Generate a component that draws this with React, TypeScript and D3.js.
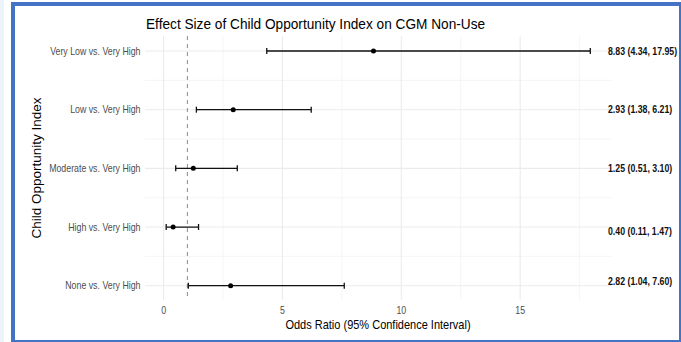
import React from "react";
import * as d3 from "d3";

const categories = [
  "Very Low vs. Very High",
  "Low vs. Very High",
  "Moderate vs. Very High",
  "High vs. Very High",
  "None vs. Very High",
];
const oddsRatio = [8.83, 2.93, 1.25, 0.4, 2.82];
const ciLower = [4.34, 1.38, 0.51, 0.11, 1.04];
const ciUpper = [17.95, 6.21, 3.1, 1.47, 7.6];
const xTicks = [0, 5, 10, 15];
const xMinorTicks = [2.5, 7.5, 12.5, 17.5];
const refLine = 1;

const W = 681;
const H = 342;
const SX = 0.88;
const FONT = "'Liberation Sans', Arial, Helvetica, sans-serif";
const labelDy = [0, 0, 0, 4, -5];

export default function App() {
  const lo = d3.min(ciLower)!;
  const hi = d3.max(ciUpper)!;
  const pad = (hi - lo) * 0.05;
  const x = d3.scaleLinear().domain([lo - pad, hi + pad]).range([145, 611.5]);
  const y = d3.scalePoint<string>().domain(categories).range([51, 285.7]);
  const step = y.step();
  const top = 36;
  const bottom = 300;
  const minorY = categories.slice(1).map((c) => (y(c)! - step / 2));
  const fmt = d3.format(".2f");

  const sq = (tx: number, ty: number, s = SX) => `translate(${tx},${ty}) scale(${s},1)`;

  return (
    <svg
      width={W}
      height={H}
      style={{ position: "absolute", left: 0, top: 0, background: "#fff" }}
      fontFamily={FONT}
    >
      <rect x={0} y={0} width={4} height={H} fill="#edf3fa" />
      {/* panel grid */}
      {xMinorTicks.map((t) => (
        <line key={"mx" + t} x1={x(t)} x2={x(t)} y1={top} y2={bottom} stroke="#f0f0f0" strokeWidth={0.7} />
      ))}
      {minorY.map((v, i) => (
        <line key={"my" + i} x1={145} x2={611.5} y1={v} y2={v} stroke="#f0f0f0" strokeWidth={0.7} />
      ))}
      {xTicks.map((t) => (
        <line key={"gx" + t} x1={x(t)} x2={x(t)} y1={top} y2={bottom} stroke="#ebebeb" strokeWidth={1.1} />
      ))}
      {categories.map((c) => (
        <line key={"gy" + c} x1={145} x2={611.5} y1={y(c)} y2={y(c)} stroke="#ebebeb" strokeWidth={1.1} />
      ))}
      {/* reference line */}
      <line
        x1={x(refLine)}
        x2={x(refLine)}
        y1={top}
        y2={bottom}
        stroke="#8a8a8a"
        strokeWidth={1}
        strokeDasharray="4,4"
      />
      {/* error bars */}
      {categories.map((c, i) => {
        const yy = y(c)!;
        const x1 = x(ciLower[i]);
        const x2 = x(ciUpper[i]);
        return (
          <g key={"eb" + c} stroke="#111" strokeWidth={1.3}>
            <line x1={x1} x2={x2} y1={yy} y2={yy} />
            <line x1={x1} x2={x1} y1={yy - 3} y2={yy + 3} />
            <line x1={x2} x2={x2} y1={yy - 3} y2={yy + 3} />
          </g>
        );
      })}
      {categories.map((c, i) => (
        <circle key={"pt" + c} cx={x(oddsRatio[i])} cy={y(c)} r={2.5} fill="#000" />
      ))}
      {/* annotation labels */}
      {categories.map((c, i) => (
        <text
          key={"lab" + c}
          transform={sq(608, y(c)! + labelDy[i] + 3.8, 0.86)}
          fontSize={10.2}
          fontWeight="bold"
          fill="#111"
        >
          {`${fmt(oddsRatio[i])} (${fmt(ciLower[i])}, ${fmt(ciUpper[i])})`}
        </text>
      ))}
      {/* y tick labels */}
      {categories.map((c) => (
        <text key={"yt" + c} transform={sq(140.5, y(c)! + 3.6)} textAnchor="end" fontSize={10} fill="#4d4d4d">
          {c}
        </text>
      ))}
      {/* x tick labels */}
      {xTicks.map((t) => (
        <text key={"xt" + t} transform={sq(x(t), 314)} textAnchor="middle" fontSize={10} fill="#4d4d4d">
          {t}
        </text>
      ))}
      {/* axis titles */}
      <text transform={sq(378, 328.5)} textAnchor="middle" fontSize={12.5} fill="#000">
        Odds Ratio (95% Confidence Interval)
      </text>
      <text
        transform={`translate(41,168) scale(${SX},1) rotate(-90)`}
        textAnchor="middle"
        fontSize={13.5}
        fill="#000"
      >
        Child Opportunity Index
      </text>
      {/* title */}
      <text transform={`translate(146,29) scale(0.9,1)`} fontSize={15.2} fill="#000">
        Effect Size of Child Opportunity Index on CGM Non-Use
      </text>
      {/* frame */}
      <rect x={13} y={4} width={668} height={338} fill="none" stroke="#4472c4" strokeWidth={4} />
    </svg>
  );
}
